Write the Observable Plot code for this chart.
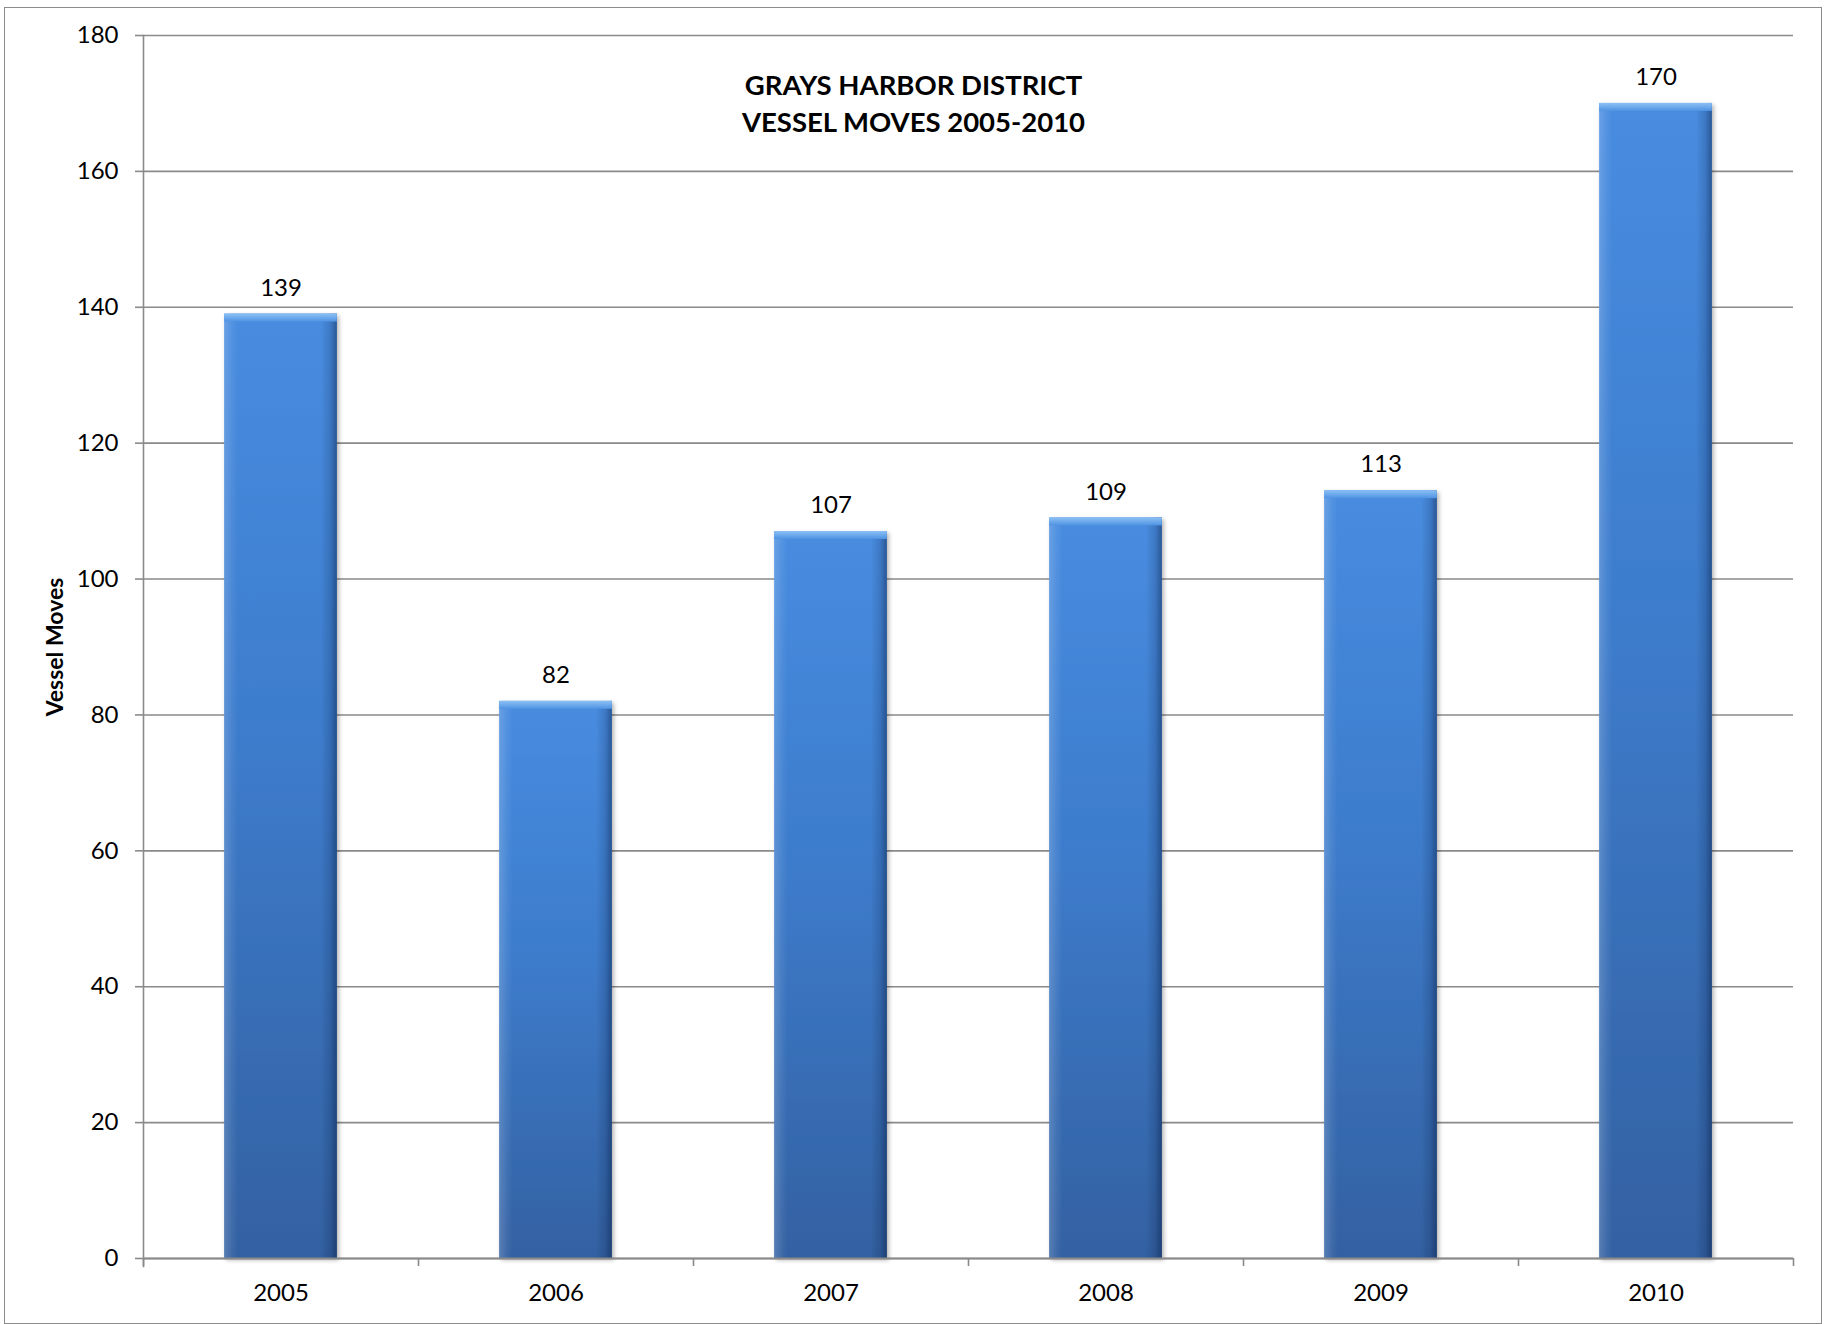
<!DOCTYPE html>
<html>
<head>
<meta charset="utf-8">
<script src="https://cdn.jsdelivr.net/npm/d3@7"></script>
<script src="https://cdn.jsdelivr.net/npm/@observablehq/plot@0.6"></script>
<style>
  html, body { margin: 0; padding: 0; background: white; }
  #wrap { position: relative; width: 1825px; height: 1324px; }
  #border { position: absolute; left: 4px; top: 7px; width: 1818px; height: 1317px; box-sizing: border-box; border: 1.5px solid #8c8c8c; pointer-events: none; }
</style>
</head>
<body>
<div id="wrap"><div id="border"></div></div>
<script>
const years = ["2005", "2006", "2007", "2008", "2009", "2010"];
const moves = [139, 82, 107, 109, 113, 170];
const yTicks = [0, 20, 40, 60, 80, 100, 120, 140, 160, 180];
const titleText = "GRAYS HARBOR DISTRICT\nVESSEL MOVES 2005-2010";
const yLabel = "Vessel Moves";

const data = years.map((year, i) => ({year, value: moves[i]}));

const W = 1825, H = 1324, ML = 143, MR = 32, MT = 35, MB = 66;
const bw = (W - ML - MR) / years.length;
const inset = bw * 0.295;
const gridColor = "#8a8a8a";
const font = "Lato, 'Open Sans', sans-serif";

const chart = Plot.plot({
  width: W, height: H,
  marginTop: MT, marginBottom: MB, marginLeft: ML, marginRight: MR,
  style: {fontFamily: font, fontSize: "24px", color: "black", background: "white", overflow: "visible"},
  x: {domain: years, padding: 0, label: null},
  y: {domain: [0, 180], ticks: yTicks, label: null},
  marks: [
    Plot.gridY(yTicks, {stroke: gridColor, strokeOpacity: 1, strokeWidth: 1.6}),
    Plot.axisY(yTicks, {tickSize: 8, tickPadding: 17, stroke: gridColor, strokeWidth: 1.6, fontSize: 24, label: null}),
    Plot.axisX({tickSize: 0, tickPadding: 25, fontSize: 24, label: null}),
    Plot.ruleX(data, {x: "year", y1: 0, y2: 0, dx: -bw / 2, insetBottom: -8, stroke: gridColor, strokeWidth: 1.6}),
    Plot.ruleX(data.slice(-1), {x: "year", y1: 0, y2: 0, dx: bw / 2, insetBottom: -8, stroke: gridColor, strokeWidth: 1.6}),
    Plot.frame({anchor: "left", insetBottom: -8, stroke: gridColor, strokeWidth: 1.6}),
    Plot.barY(data, {x: "year", y: "value", fill: "url(#barGrad)", insetLeft: inset, insetRight: inset, className: "mainbar"}),
    Plot.barY(data, {x: "year", y: "value", fill: "url(#edgeGrad)", insetLeft: inset, insetRight: inset}),
    Plot.barY(data, {x: "year", y1: "value", y2: "value", insetBottom: -8, fill: "url(#topGrad)", insetLeft: inset, insetRight: inset}),
    Plot.ruleY([0], {stroke: gridColor, strokeWidth: 2}),
    Plot.text(data, {x: "year", y: "value", text: d => String(d.value), dy: -26, fontSize: 24, fill: "black"}),
    Plot.text([titleText], {frameAnchor: "top", dx: -55, dy: 33, fontSize: 27.5, fontWeight: "bold", lineHeight: 1.35, fill: "black"}),
    Plot.text([yLabel], {frameAnchor: "left", dx: -88, rotate: -90, textAnchor: "middle", fontSize: 23, fontWeight: "bold", fill: "black"})
  ]
});

const svg = d3.select(chart);
const defs = svg.insert("defs", ":first-child");
const g1 = defs.append("linearGradient").attr("id", "barGrad").attr("x1", 0).attr("y1", 0).attr("x2", 0).attr("y2", 1);
[[0, "#488ce0"], [0.45, "#3d7ccc"], [1, "#3361a2"]].forEach(([o, c]) => g1.append("stop").attr("offset", o).attr("stop-color", c));
const g2 = defs.append("linearGradient").attr("id", "edgeGrad").attr("x1", 0).attr("y1", 0).attr("x2", 1).attr("y2", 0);
[[0, "#ffffff", 0.18], [0.07, "#ffffff", 0.06], [0.12, "#ffffff", 0], [0.86, "#000000", 0], [0.94, "#001030", 0.15], [1, "#001030", 0.42]]
  .forEach(([o, c, a]) => g2.append("stop").attr("offset", o).attr("stop-color", c).attr("stop-opacity", a));
const g3 = defs.append("linearGradient").attr("id", "topGrad").attr("x1", 0).attr("y1", 0).attr("x2", 0).attr("y2", 1);
[[0, "#8cc0f4"], [1, "#4f93e3"]].forEach(([o, c]) => g3.append("stop").attr("offset", o).attr("stop-color", c));
const f = defs.append("filter").attr("id", "shadow").attr("x", "-10%").attr("y", "-10%").attr("width", "130%").attr("height", "120%");
f.append("feDropShadow").attr("dx", 2).attr("dy", 2).attr("stdDeviation", 2).attr("flood-color", "#000").attr("flood-opacity", 0.3);
svg.selectAll("g.mainbar, .mainbar").attr("filter", "url(#shadow)");

document.getElementById("wrap").insertBefore(chart, document.getElementById("border"));
</script>
</body>
</html>
